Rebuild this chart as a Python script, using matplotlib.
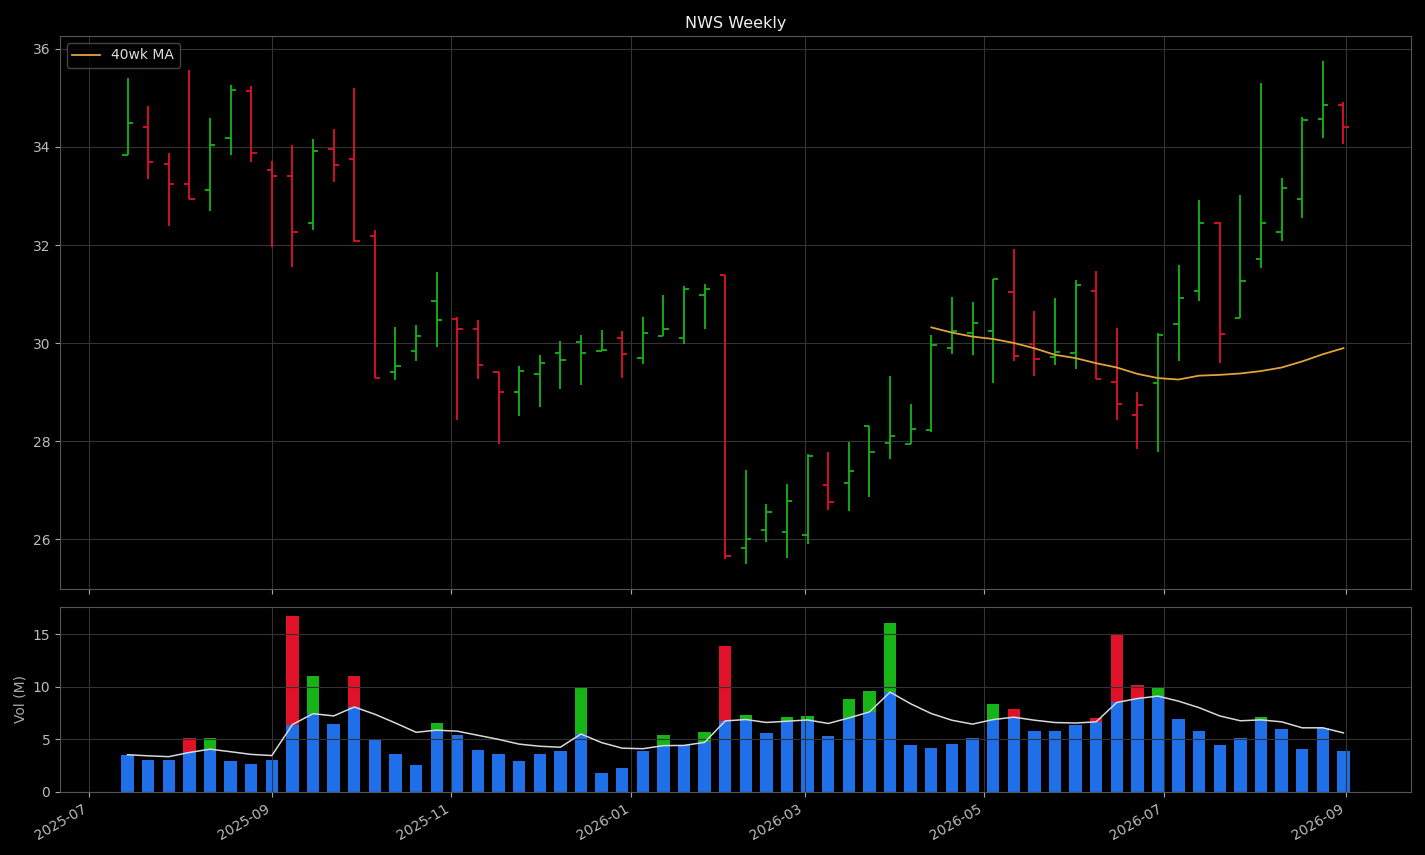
import matplotlib
matplotlib.use('Agg')
import matplotlib.pyplot as plt
import matplotlib.dates as mdates
import numpy as np
import pandas as pd

# weekly bars, Mondays
dates = pd.date_range('2025-07-14', periods=60, freq='W-MON')

opens = [33.84, 34.41, 33.66, 33.25, 33.12, 34.19, 35.14, 33.54, 33.41, 32.45,
         33.95, 33.76, 32.18, 29.41, 29.84, 30.86, 30.50, 30.29, 29.41, 29.01,
         29.37, 29.80, 30.03, 29.84, 30.11, 29.69, 30.14, 30.11, 30.99, 31.39,
         25.82, 26.19, 26.14, 26.08, 27.10, 27.15, 28.31, 27.96, 27.94, 28.22,
         29.90, 30.20, 30.24, 31.05, 29.98, 29.72, 29.80, 31.07, 29.20, 28.53,
         29.19, 30.39, 31.07, 32.44, 30.51, 31.71, 32.27, 32.94, 34.57, 34.86]
highs = [35.41, 34.83, 33.87, 35.56, 34.59, 35.26, 35.24, 33.71, 34.05, 34.16,
         34.36, 35.20, 32.30, 30.33, 30.38, 31.45, 30.54, 30.48, 29.42, 29.54,
         29.75, 30.04, 30.16, 30.27, 30.24, 30.53, 30.98, 31.16, 31.20, 31.39,
         27.41, 26.73, 27.12, 27.73, 27.78, 27.98, 28.31, 29.33, 28.76, 30.16,
         30.95, 30.84, 31.31, 31.91, 30.65, 30.93, 31.28, 31.48, 30.30, 29.01,
         30.20, 31.59, 32.91, 32.46, 33.03, 35.30, 33.36, 34.61, 35.75, 34.91]
lows = [33.84, 33.35, 32.39, 32.93, 32.70, 33.84, 33.70, 31.97, 31.56, 32.31,
        33.29, 32.06, 29.29, 29.25, 29.64, 29.92, 28.44, 29.27, 27.94, 28.52,
        28.70, 29.07, 29.15, 29.84, 29.29, 29.58, 30.14, 29.99, 30.29, 25.59,
        25.50, 25.95, 25.61, 25.90, 26.60, 26.58, 26.86, 27.64, 27.94, 28.19,
        29.78, 29.76, 29.19, 29.64, 29.33, 29.56, 29.48, 29.27, 28.44, 27.84,
        27.78, 29.64, 30.86, 29.60, 30.51, 31.54, 32.09, 32.56, 34.19, 34.07]
closes = [34.48, 33.69, 33.25, 32.94, 34.03, 35.16, 33.88, 33.41, 32.27, 33.92,
          33.63, 32.08, 29.29, 29.54, 30.15, 30.48, 30.29, 29.56, 29.01, 29.44,
          29.59, 29.66, 29.80, 29.86, 29.78, 30.21, 30.29, 31.11, 31.11, 25.66,
          26.01, 26.56, 26.78, 27.69, 26.76, 27.39, 27.78, 28.11, 28.24, 29.96,
          30.24, 30.41, 31.31, 29.74, 29.67, 29.82, 31.18, 29.27, 28.76, 28.73,
          30.17, 30.93, 32.44, 30.19, 31.27, 32.45, 33.17, 34.55, 34.86, 34.41]
# volume in millions
volume = [3.54, 3.07, 3.07, 5.16, 5.16, 2.97, 2.69, 3.07, 16.74, 11.04,
          6.49, 11.04, 4.97, 3.64, 2.59, 6.58, 5.44, 4.02, 3.64, 2.97,
          3.64, 3.92, 9.91, 1.84, 2.31, 3.92, 5.44, 4.49, 5.73, 13.89,
          7.34, 5.63, 7.15, 7.25, 5.35, 8.86, 9.62, 16.08, 4.49, 4.21,
          4.59, 5.16, 8.39, 7.91, 5.82, 5.82, 6.39, 7.06, 14.94, 10.19,
          9.91, 6.96, 5.82, 4.49, 5.16, 7.15, 6.01, 4.11, 6.11, 3.92]

df = pd.DataFrame({'open': opens, 'high': highs, 'low': lows,
                   'close': closes, 'vol': volume}, index=dates)
df['ma40'] = df['close'].rolling(40).mean()
df['vma'] = df['vol'].ewm(span=8, adjust=False).mean()
# up/down vs previous close
up = df['close'].diff().fillna(df['close'].iloc[0] - df['open'].iloc[0]) >= 0

GREEN = '#16b416'
RED = '#e0122a'
BLUE = '#1f6fe8'

plt.style.use('dark_background')
plt.rcParams['font.family'] = 'DejaVu Sans'
plt.rcParams['axes.facecolor'] = 'black'
plt.rcParams['figure.facecolor'] = 'black'
plt.rcParams['axes.edgecolor'] = '#555555'
plt.rcParams['grid.color'] = '#333333'
plt.rcParams['xtick.color'] = '#aaaaaa'
plt.rcParams['ytick.color'] = '#aaaaaa'
plt.rcParams['xtick.labelcolor'] = '#bbbbbb'
plt.rcParams['ytick.labelcolor'] = '#bbbbbb'

fig, (ax, ax2) = plt.subplots(2, 1, figsize=(14.25, 8.55), dpi=100, sharex=True,
                              gridspec_kw={'height_ratios': [553, 185]})
fig.subplots_adjust(left=0.0421, right=0.9902, top=0.9579, bottom=0.0737, hspace=0.0488)

# OHLC bars
tick = pd.Timedelta(days=1.8)
cols = [GREEN if u else RED for u in up]
ax.vlines(df.index, df['low'], df['high'], colors=cols, lw=1.3)
ax.hlines(df['open'], df.index - tick, df.index, colors=cols, lw=1.3)
ax.hlines(df['close'], df.index, df.index + tick, colors=cols, lw=1.3)
ax.plot(df.index, df['ma40'], color='#e0a33c', lw=1.3, label='40wk MA')
ax.set_title('NWS Weekly', color='#eeeeee', fontsize=11.5)
ax.grid(True, lw=0.8)
ax.legend(loc='upper left', fontsize=10, facecolor='black', edgecolor='#555555',
          labelcolor='#dddddd')
ax.tick_params(labelbottom=False)

# volume: colored bar, blue up to the volume average
ax2.bar(df.index, df['vol'], width=4.2, color=cols)
ax2.bar(df.index, np.minimum(df['vol'], df['vma']), width=4.2, color=BLUE)
ax2.plot(df.index, df['vma'], color='#d8d8d8', lw=1.1)
ax2.set_ylabel('Vol (M)', color='#aaaaaa')
ax2.grid(True, lw=0.8)
ax2.xaxis.set_major_locator(mdates.MonthLocator(bymonth=[1, 3, 5, 7, 9, 11]))
ax2.xaxis.set_major_formatter(mdates.DateFormatter('%Y-%m'))
plt.setp(ax2.get_xticklabels(), rotation=30, ha='right')

fig.savefig('out.png', dpi=100, facecolor='black')
